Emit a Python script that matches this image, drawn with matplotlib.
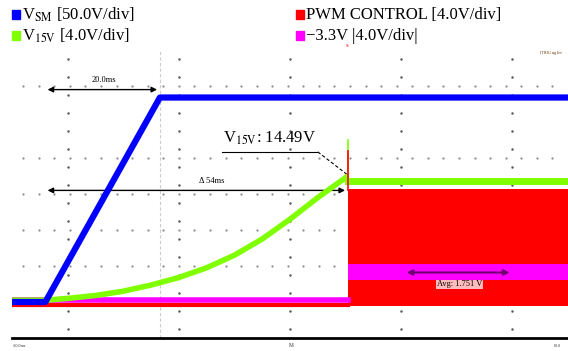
import numpy as np
import matplotlib
matplotlib.use('Agg')
from matplotlib import pyplot as plt
from matplotlib.patches import Rectangle

plt.rcParams['font.family'] = ['Liberation Serif', 'DejaVu Serif']
plt.rcParams['mathtext.fontset'] = 'stix'

# tiempo en ms, tension en divisiones de pantalla
t_sm = [0, 6, 26.6, 100]
v_sm = [1.0, 1.0, 6.68, 6.68]

t_15 = [0, 6, 10, 15, 20, 25, 30, 35, 40, 45, 50, 55, 60.4]
v_15 = [1.05, 1.05, 1.1, 1.18, 1.3, 1.47, 1.68, 1.95, 2.3, 2.75, 3.3, 3.9, 4.5]
t_15_on = [60.4, 100]
v_15_on = [4.35, 4.35]
spike_15 = 5.5

t_pwm_off = [0, 60.4]
v_pwm_off = [0.93, 0.93]
pwm_lo, pwm_hi = 0.9, 4.15
spike_pwm = 5.2

t_33 = [0, 60.4]
v_33 = [1.05, 1.05]
t_33_on = [60.4, 100]
v_33_lo = [1.6, 1.6]
v_33_hi = [2.05, 2.05]

azul = '#0000ff'
rojo = '#ff0000'
verde = '#80ff00'
magenta = '#ff00ff'

fig = plt.figure(figsize=(5.68, 3.51), dpi=100)
ax = fig.add_axes([12 / 568, 13 / 351, 556 / 568, 288 / 351])
ax.set_xlim(0, 100)
ax.set_ylim(0, 8)
for s in ['top', 'left', 'right']:
    ax.spines[s].set_visible(False)
ax.spines['bottom'].set_linewidth(2)
ax.set_xticks([])
ax.set_yticks([])

# reticula punteada
for xc in [10, 30, 50, 70, 90]:
    ys = np.arange(0.25, 8.0, 0.5)
    ax.plot([xc] * len(ys), ys, ls='none', marker='.', ms=1.5, color='#555555', zorder=1)
for yr in [2, 3, 4, 5, 7]:
    xs = np.arange(2, 100, 2.8)
    ax.plot(xs, [yr] * len(xs), ls='none', marker='.', ms=1.2, color='#888888', zorder=1)
ax.axvline(26.6, color='#cccccc', lw=0.8, ls=(0, (3, 2)), zorder=1)

# trazas
ax.fill_between(t_33_on, v_33_lo, v_33_hi, color=magenta, lw=0, zorder=3)
ax.fill_between(t_15_on, [pwm_lo] * 2, [pwm_hi] * 2, color=rojo, lw=0, zorder=2)
ax.plot(t_15_on, v_15_on, color=verde, lw=5, zorder=2.5)
ax.plot(t_pwm_off, v_pwm_off, color=rojo, lw=3, zorder=3)
ax.plot(t_33, v_33, color=magenta, lw=4, zorder=4)
ax.plot(t_15, v_15, color=verde, lw=4, zorder=5, solid_capstyle='butt')
ax.plot(t_sm, v_sm, color=azul, lw=4.5, zorder=6)
ax.plot([60.4, 60.4], [4.3, spike_15], color=verde, lw=1.2, zorder=5)
ax.plot([60.4, 60.4], [4.1, spike_pwm], color=rojo, lw=1.2, zorder=5)

# cursores
ax.annotate('', xy=(5.9, 6.9), xytext=(26.6, 6.9),
            arrowprops=dict(arrowstyle='<|-|>', color='black', lw=1, mutation_scale=8))
ax.text(16.5, 7.05, '20.0ms', fontsize=6, ha='center', va='bottom')
ax.annotate('', xy=(5.9, 4.1), xytext=(60.4, 4.1),
            arrowprops=dict(arrowstyle='<|-|>', color='black', lw=1, mutation_scale=8))
ax.text(36, 4.25, '\u0394 54ms', fontsize=6, ha='center', va='bottom')
ax.annotate('', xy=(70.5, 1.82), xytext=(90, 1.82),
            arrowprops=dict(arrowstyle='<|-|>', color='#700070', lw=1.5, mutation_scale=8))
ax.text(80.5, 1.6, 'Avg: 1.751 V', fontsize=6, ha='center', va='top',
        color='black', bbox=dict(fc='#ffbbbb', ec='none', pad=0.5))

ax.text(46.4, 5.3, r'V$_{\mathrm{15V}}$: 14.49V', fontsize=12, ha='center', va='bottom')
ax.plot([37.8, 55], [5.17, 5.17], color='black', lw=0.8)
ax.plot([55, 60.2], [5.17, 4.55], color='black', lw=0.8, ls=(0, (3, 2)))

# leyenda
filas = [(0.035, 0.957, azul, r'V$_{\mathrm{SM}}$ [50.0V/div]'),
         (0.035, 0.897, verde, r'V$_{\mathrm{15V}}$ [4.0V/div]'),
         (0.535, 0.957, rojo, 'PWM CONTROL [4.0V/div]'),
         (0.535, 0.897, magenta, '\u22123.3V |4.0V/div|')]
for x, y, c, txt in filas:
    fig.add_artist(Rectangle((x - 0.013, y - 0.011), 0.014, 0.025, color=c,
                             transform=fig.transFigure))
    fig.text(x + 0.004, y, txt, fontsize=12, va='center', ha='left')

fig.text(0.95, 0.845, '[TRIG ng lev', fontsize=3, color='#663300', ha='left')
fig.text(0.611, 0.865, 's', fontsize=5, color='red', ha='center')
fig.text(0.022, 0.012, '-20.0ms', fontsize=3, color='#333333')
fig.text(0.512, 0.012, 'M', fontsize=4, color='#333333', ha='center')
fig.text(0.975, 0.012, '80.0', fontsize=3, color='#333333')

fig.savefig('out.png', dpi=100)
